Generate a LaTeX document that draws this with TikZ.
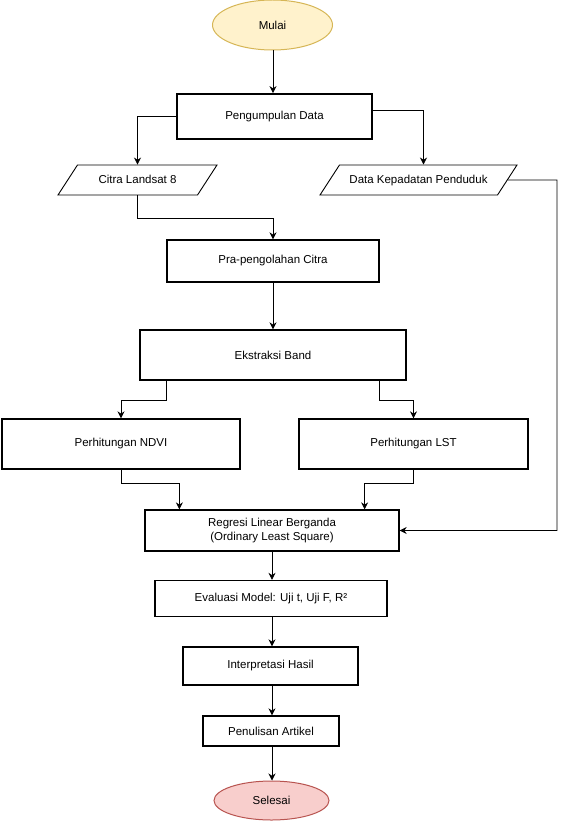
\documentclass[tikz,border=0pt]{standalone}
\usepackage{fontspec}
\setmainfont{Liberation Sans}
\usepackage{tikz}
\usetikzlibrary{shapes.geometric, arrows.meta, positioning, calc}
\definecolor{startfill}{HTML}{FFF2CC}
\definecolor{startdraw}{HTML}{D6B656}
\definecolor{endfill}{HTML}{F8CECC}
\definecolor{enddraw}{HTML}{B85450}
\tikzstyle{process} = [rectangle, draw=black, line width=1.3pt, inner sep=0pt, text centered, font=\fontsize{11.5}{13.5}\selectfont]
\tikzstyle{terminal} = [ellipse, inner sep=0pt, line width=1pt, font=\fontsize{11.5}{13.5}\selectfont]
\tikzstyle{io} = [trapezium, trapezium left angle=57, trapezium right angle=123, trapezium stretches body=true, draw=black, line width=0.9pt, inner xsep=0pt, inner ysep=9.5pt, text height=8.5pt, text depth=2.5pt, font=\fontsize{11.5}{13.5}\selectfont]
\tikzstyle{arrow} = [line width=0.8pt, -{Stealth[length=7pt, width=7pt]}]
\begin{document}
\begin{tikzpicture}[x=1pt, y=-1pt]
    \useasboundingbox (0,0) rectangle (568,821);

    % Start and input data
    \node (mulai) [terminal, fill=startfill, draw=startdraw, minimum width=120pt, minimum height=50pt] at (272.5,25) {Mulai};
    \node (pengumpulan) [process, line width=1.8pt, minimum width=195pt, minimum height=45pt] at (274.5,116.5) {Pengumpulan Data};
    \node (citra) [io, minimum width=159pt, minimum height=30pt] at (137.5,180) {Citra Landsat 8};
    \node (kepadatan) [io, minimum width=197pt, minimum height=30pt] at (418.5,180) {Data Kepadatan Penduduk};

    % Image processing
    \node (pra) [process, minimum width=212pt, minimum height=42pt] at (273,261) {Pra-pengolahan Citra};
    \node (ekstraksi) [process, minimum width=266pt, minimum height=50pt] at (273,355) {Ekstraksi Band};
    \node (ndvi) [process, minimum width=238pt, minimum height=50pt] at (121,444) {Perhitungan NDVI};
    \node (lst) [process, minimum width=229pt, minimum height=50pt] at (413.5,444) {Perhitungan LST};

    % Analysis
    \node (regresi) [process, minimum width=254pt, minimum height=41pt, align=center] at (272,530.5) {Regresi Linear Berganda\\(Ordinary Least Square)};
    \node (evaluasi) [process, minimum width=232pt, minimum height=36pt] at (271,598.5) {Evaluasi Model: Uji t, Uji F, R²};
    \node (interpretasi) [process, minimum width=175pt, minimum height=38pt] at (270.5,666) {Interpretasi Hasil};
    \node (penulisan) [process, minimum width=136pt, minimum height=30pt] at (271,731) {Penulisan Artikel};
    \node (selesai) [terminal, fill=endfill, draw=enddraw, minimum width=115pt, minimum height=39pt] at (271.5,800.5) {Selesai};

    \coordinate (rail) at (557,180);
    \coordinate (spine) at (272,0);

    % Arrows
    \draw[arrow] (mulai.south -| 273,0) -- (pengumpulan.north -| 273,0);
    \draw[arrow] (pengumpulan.west) -| (citra.north);
    \draw[arrow] ([yshift=6.5pt]pengumpulan.east) -| ([xshift=5pt]kepadatan.north);
    \draw[arrow] (citra.south) -- ++(0,23) -| (pra.north);
    \draw[arrow] (pra.south) -- (ekstraksi.north);
    \draw[arrow] ([xshift=27pt]ekstraksi.south west) -- ++(0,20) -| (ndvi.north);
    \draw[arrow] ([xshift=-27pt]ekstraksi.south east) -- ++(0,20) -| (lst.north);
    \draw[arrow] (ndvi.south) -- ++(0,14) -| ([xshift=35pt]regresi.north west);
    \draw[arrow] (lst.south) -- ++(0,14) -| ([xshift=-35pt]regresi.north east);
    \draw[arrow] (kepadatan.east) -- (rail) |- (regresi.east);
    \draw[arrow] (regresi.south -| spine) -- (evaluasi.north -| spine);
    \draw[arrow] (evaluasi.south -| spine) -- (interpretasi.north -| spine);
    \draw[arrow] (interpretasi.south -| spine) -- (penulisan.north -| spine);
    \draw[arrow] (penulisan.south -| spine) -- (selesai.north -| spine);
\end{tikzpicture}
\end{document}
